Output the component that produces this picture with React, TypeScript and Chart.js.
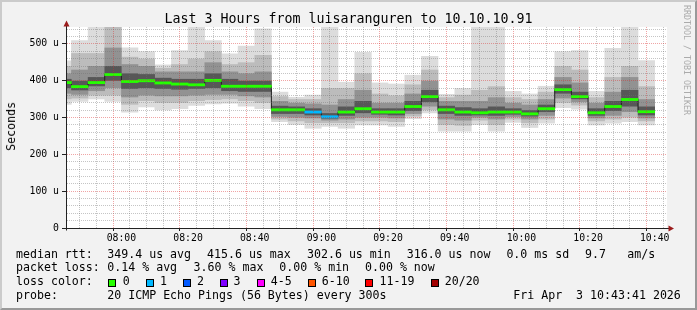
import { useEffect, useRef } from 'react';
import { Chart, registerables } from 'chart.js';

Chart.register(...registerables);

// ---- time axis (5 minute RRD steps) ----
const barStarts = [
  '07:40', '07:45', '07:50', '07:55', '08:00', '08:05', '08:10', '08:15', '08:20',
  '08:25', '08:30', '08:35', '08:40', '08:45', '08:50', '08:55', '09:00', '09:05',
  '09:10', '09:15', '09:20', '09:25', '09:30', '09:35', '09:40', '09:45', '09:50',
  '09:55', '10:00', '10:05', '10:10', '10:15', '10:20', '10:25', '10:30', '10:35',
];
const periodEnd = '10:40';
const windowStart = '07:43:41';
const windowEnd = '10:43:41';
const stepMinutes = 5;

// ---- series (microseconds) ----
const medianRtt = [395, 384, 395, 417, 398, 400, 394, 391, 389, 401, 385, 385, 385, 321, 321, 315, 302, 315, 324, 315, 315, 330, 357, 321, 315, 313, 315, 315, 310, 324, 376, 357, 313, 330, 349, 316];
const lossPings = [0, 0, 0, 0, 0, 0, 0, 0, 0, 0, 0, 0, 0, 0, 0, 1, 1, 0, 0, 0, 0, 0, 0, 0, 0, 0, 0, 0, 0, 0, 0, 0, 0, 0, 0, 0];

const smokeMax = [455, 510, 560, 600, 490, 480, 444, 483, 560, 510, 474, 495, 542, 370, 356, 362, 560, 397, 478, 395, 392, 416, 467, 364, 380, 560, 560, 372, 365, 386, 480, 483, 372, 489, 550, 456];
const smokeHi2 = [440, 475, 475, 560, 465, 460, 435, 445, 460, 480, 445, 450, 470, 358, 350, 350, 380, 380, 420, 365, 360, 390, 430, 355, 362, 375, 385, 355, 350, 370, 440, 430, 355, 410, 440, 385];
const smokeHi3 = [420, 430, 440, 490, 445, 440, 425, 425, 425, 450, 425, 420, 425, 345, 340, 338, 335, 350, 375, 340, 340, 365, 400, 345, 345, 345, 355, 340, 335, 350, 410, 395, 340, 370, 410, 350];
const smokeHi4 = [405, 400, 410, 440, 420, 418, 408, 405, 405, 420, 405, 400, 400, 332, 330, 325, 312, 330, 345, 325, 325, 345, 375, 332, 328, 325, 330, 325, 320, 335, 390, 370, 325, 345, 375, 330];
const smokeLo4 = [380, 374, 385, 400, 378, 380, 378, 376, 378, 380, 372, 370, 370, 310, 310, 306, 297, 305, 312, 308, 306, 318, 342, 310, 305, 306, 305, 308, 303, 315, 365, 350, 305, 318, 330, 306];
const smokeLo3 = [365, 362, 372, 380, 355, 360, 358, 358, 360, 362, 362, 358, 355, 302, 300, 298, 292, 295, 300, 300, 298, 310, 330, 295, 292, 300, 295, 302, 295, 305, 352, 342, 298, 305, 315, 298];
const smokeLo2 = [350, 352, 360, 360, 335, 345, 340, 340, 345, 348, 350, 345, 340, 295, 290, 285, 285, 285, 290, 290, 288, 303, 320, 280, 278, 292, 280, 295, 285, 295, 340, 333, 290, 295, 300, 290];
const smokeMin = [335, 343, 350, 343, 314, 328, 320, 323, 332, 336, 338, 330, 323, 288, 280, 270, 275, 270, 279, 279, 275, 296, 312, 262, 262, 280, 262, 286, 272, 284, 326, 322, 279, 284, 288, 279];

// ---- axis ----
const yTop = 546;
const yGridStep = 20;
const yLabelStep = 100;
const xLabelStep = 20;

// ---- loss legend ----
const lossLabels = ['0', '1', '2', '3', '4-5', '6-10', '11-19', '20/20'];
const lossThresholds = [0, 1, 2, 3, 4, 6, 11, 20];
const lossColors = ['#26ff00', '#00b8ff', '#0059ff', '#7e00ff', '#ff00ff', '#ff5500', '#ff0000', '#a10000'];

// ---- legend text ----
const rttStats = ['median rtt:', '349.4 us avg', '415.6 us max', '302.6 us min', '316.0 us now', '0.0 ms sd', '9.7', 'am/s'];
const lossStats = ['packet loss:', '0.14 % avg', '3.60 % max', '0.00 % min', '0.00 % now'];
const probeInfo = ['probe:', '20 ICMP Echo Pings (56 Bytes) every 300s', 'Fri Apr  3 10:43:41 2026'];

const mono = '"DejaVu Sans Mono", monospace';

const toMin = (s: string) => {
  const [h, m, sec] = s.split(':').map(Number);
  return h * 60 + m + (sec || 0) / 60;
};
const hhmm = (v: number) => {
  const h = Math.floor(v / 60);
  const m = Math.round(v - h * 60);
  return `${String(h).padStart(2, '0')}:${String(m).padStart(2, '0')}`;
};
const lossColor = (n: number) => {
  let c = lossColors[0];
  lossThresholds.forEach((t, i) => { if (n >= t) c = lossColors[i]; });
  return c;
};

const frameAxes = {
  id: 'rrdFrame',
  beforeDraw(chart: any) {
    const { ctx, chartArea: a } = chart;
    ctx.save();
    ctx.fillStyle = '#ffffff';
    ctx.fillRect(a.left, a.top, a.right - a.left, a.bottom - a.top);
    ctx.restore();
  },
  afterDraw(chart: any) {
    const { ctx, chartArea: a } = chart;
    const x0 = Math.round(a.left) - 0.5;
    const y0 = Math.round(a.bottom) + 0.5;
    ctx.save();
    ctx.strokeStyle = '#222222';
    ctx.lineWidth = 1;
    ctx.beginPath();
    ctx.moveTo(x0, y0 + 2);
    ctx.lineTo(x0, a.top - 4);
    ctx.moveTo(x0 - 2, y0);
    ctx.lineTo(a.right + 3, y0);
    ctx.stroke();
    ctx.fillStyle = '#9b1c1c';
    ctx.beginPath();
    ctx.moveTo(x0 - 3, a.top - 0.5);
    ctx.lineTo(x0 + 3, a.top - 0.5);
    ctx.lineTo(x0, a.top - 6.5);
    ctx.closePath();
    ctx.fill();
    ctx.beginPath();
    ctx.moveTo(a.right + 1.5, y0 - 3);
    ctx.lineTo(a.right + 1.5, y0 + 3);
    ctx.lineTo(a.right + 7, y0);
    ctx.closePath();
    ctx.fill();
    ctx.restore();
  },
};

export default function App() {
  const ref = useRef<HTMLCanvasElement>(null);

  useEffect(() => {
    const canvas = ref.current;
    if (!canvas) return;
    const centers = barStarts.map((s) => toMin(s) + stepMinutes / 2);
    const layer = (lo: number[], hi: number[], color: string, order: number) => ({
      type: 'bar',
      data: centers.map((x, i) => ({ x, y: [lo[i], hi[i]] })),
      backgroundColor: color,
      borderWidth: 0,
      grouped: false,
      barPercentage: 1.03,
      categoryPercentage: 1,
      clip: 0,
      order,
    });
    const bandHalf = 3;
    const xMin = toMin(windowStart);
    const xMax = toMin(windowEnd);
    const xTicks = [...barStarts, periodEnd].map(toMin).filter((v) => v >= xMin && v <= xMax);
    const yTicks: number[] = [];
    for (let v = 0; v <= yTop; v += yGridStep) yTicks.push(v);

    const majorGrid = 'rgba(220,40,40,0.42)';
    const minorGrid = 'rgba(110,110,110,0.4)';

    const chart = new Chart(canvas, {
      type: 'bar',
      data: {
        datasets: [
          {
            type: 'bar',
            data: centers.map((x, i) => ({ x, y: [medianRtt[i] - bandHalf, medianRtt[i] + bandHalf] })),
            backgroundColor: lossPings.map(lossColor),
            borderWidth: 0,
            grouped: false,
            barPercentage: 1,
            categoryPercentage: 1,
            clip: 0,
            order: 0,
          },
          {
            type: 'line',
            data: [
              ...barStarts.map((s, i) => ({ x: toMin(s), y: medianRtt[i] })),
              { x: toMin(periodEnd), y: medianRtt[medianRtt.length - 1] },
            ],
            stepped: 'before',
            borderColor: '#202020',
            borderWidth: 1,
            pointRadius: 0,
            fill: false,
            clip: 0,
            order: 1,
          },
          layer(smokeLo4, smokeHi4, '#575757', 2),
          layer(smokeLo3, smokeHi3, '#929292', 3),
          layer(smokeLo2, smokeHi2, '#bcbcbc', 4),
          layer(smokeMin, smokeMax, '#dcdcdc', 5),
        ] as any,
      },
      options: {
        animation: false,
        responsive: false,
        devicePixelRatio: 1,
        events: [],
        layout: { padding: { left: 27, top: 27, right: 30, bottom: 62 } },
        plugins: { legend: { display: false }, tooltip: { enabled: false }, title: { display: false } },
        scales: {
          x: {
            type: 'linear',
            min: xMin,
            max: xMax,
            offset: false,
            afterBuildTicks: (axis: any) => { axis.ticks = xTicks.map((value) => ({ value })); },
            afterFit: (axis: any) => { axis.height = 20; },
            grid: {
              z: 1,
              color: (c: any) => (c.tick && Math.round(c.tick.value) % xLabelStep === 0 ? majorGrid : minorGrid),
              lineWidth: 1,
              tickLength: 3,
              tickColor: (c: any) => (c.tick && Math.round(c.tick.value) % xLabelStep === 0 ? '#222' : 'rgba(0,0,0,0)'),
            },
            border: { display: false, dash: [1, 1] },
            ticks: {
              autoSkip: false,
              maxRotation: 0,
              minRotation: 0,
              padding: 2,
              color: '#000',
              font: { family: mono, size: 9.8 },
              callback: (v: any) => (Math.round(v) % xLabelStep === 0 ? hhmm(Number(v)) : ''),
            },
          },
          y: {
            type: 'linear',
            min: 0,
            max: yTop,
            afterBuildTicks: (axis: any) => { axis.ticks = yTicks.map((value) => ({ value })); },
            afterFit: (axis: any) => { axis.width = 40; },
            grid: {
              z: 1,
              color: (c: any) => (c.tick && Math.round(c.tick.value) % yLabelStep === 0 ? majorGrid : minorGrid),
              lineWidth: 1,
              tickLength: 5,
              tickColor: (c: any) => (c.tick && Math.round(c.tick.value) % yLabelStep === 0 ? '#222' : 'rgba(0,0,0,0)'),
            },
            border: { display: false, dash: [1, 1] },
            ticks: {
              autoSkip: false,
              padding: 3,
              color: '#000',
              font: { family: mono, size: 9.8 },
              callback: (v: any) => {
                const n = Math.round(Number(v));
                if (n % yLabelStep !== 0) return '';
                return n === 0 ? '0' : `${n} u`;
              },
            },
          },
        },
      },
      plugins: [frameAxes],
    } as any);
    return () => chart.destroy();
  }, []);

  const rowTop = [246.5, 260.4, 274.3, 288.2];
  const txt = (left: number, top: number, s: string, key: string) => (
    <span key={key} style={{ position: 'absolute', left, top, whiteSpace: 'pre', fontSize: 11.6, lineHeight: '14px' }}>{s}</span>
  );
  const rttX = [16, 107.3, 207, 307, 406.7, 506.4, 585, 627.3];
  const lossX = [16, 107.3, 193.6, 279.3, 365];
  const probeX = [16, 107.3, 513.3];
  const boxX = [108, 145.5, 182.5, 219.5, 256.5, 307.5, 365, 430.5];
  const boxLabelX = [122.7, 160, 197, 233.5, 270.7, 321.7, 379.5, 444.7];

  return (
    <div style={{ position: 'fixed', left: 0, top: 0, width: 697, height: 310, background: '#f2f2f2', overflow: 'hidden', fontFamily: mono, color: '#000' }}>
      <div style={{ position: 'absolute', left: 0, top: 0, width: 697, height: 310, boxSizing: 'border-box', borderStyle: 'solid', borderWidth: 2, borderColor: '#cbcbcb #999999 #999999 #cbcbcb' }} />
      <canvas ref={ref} width={697} height={310} style={{ position: 'absolute', left: 0, top: 0, width: 697, height: 310 }} />
      <div style={{ position: 'absolute', left: 0, top: 11.4, width: 697, textAlign: 'center', fontSize: 13.3, lineHeight: '16px', whiteSpace: 'pre' }}>
        Last 3 Hours from luisaranguren to 10.10.10.91
      </div>
      <div style={{ position: 'absolute', left: 4, top: 102, width: 14, writingMode: 'vertical-rl', transform: 'rotate(180deg)', fontSize: 11.6, lineHeight: '14px' }}>
        Seconds
      </div>
      <div style={{ position: 'absolute', left: 682, top: 5, writingMode: 'vertical-rl', fontSize: 8.3, lineHeight: '10px', color: '#ababab', whiteSpace: 'pre' }}>
        RRDTOOL / TOBI OETIKER
      </div>
      {rttStats.map((s, i) => txt(rttX[i], rowTop[0], s, 'a' + i))}
      {lossStats.map((s, i) => txt(lossX[i], rowTop[1], s, 'b' + i))}
      {txt(16, rowTop[2], 'loss color:', 'c0')}
      {lossLabels.map((l, i) => (
        <span key={'box' + i} style={{ position: 'absolute', left: boxX[i], top: 279, width: 6, height: 6, background: lossColors[i], border: '1px solid #000' }} />
      ))}
      {lossLabels.map((l, i) => txt(boxLabelX[i], rowTop[2], l, 'cl' + i))}
      {probeInfo.map((s, i) => txt(probeX[i], rowTop[3], s, 'd' + i))}
    </div>
  );
}
